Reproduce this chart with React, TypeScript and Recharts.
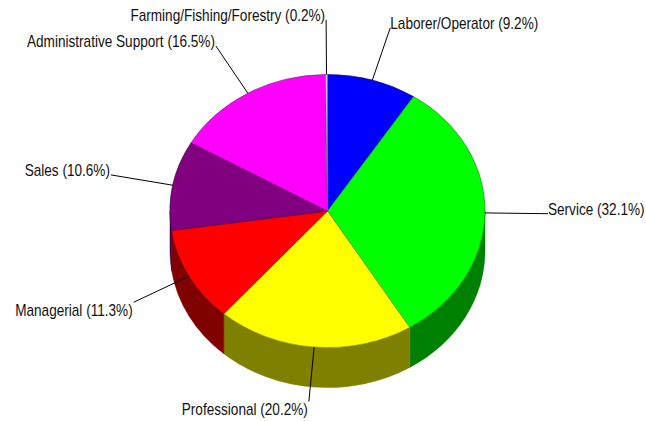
import { PieChart, Pie } from "recharts";

const occupations = [
  "Laborer/Operator",
  "Service",
  "Professional",
  "Managerial",
  "Sales",
  "Administrative Support",
  "Farming/Fishing/Forestry",
];
const shares = [9.2, 32.1, 20.2, 11.3, 10.6, 16.5, 0.2];
const topColors = ["#0000FF", "#00FF00", "#FFFF00", "#FF0000", "#800080", "#FF00FF", "#D0D0D8"];
const sideColors = ["#000080", "#008000", "#808000", "#800000", "#400040", "#800080", "#686870"];

const data = occupations.map((name, i) => ({ name, value: shares[i] }));

const TILT = 0.867; // vertical squash of the top face
const DEPTH = 40;
const LABEL_K = 1.4;
const RAD = Math.PI / 180;

const pt = (cx: number, cy: number, rx: number, ry: number, a: number) => [
  cx + rx * Math.cos(a * RAD),
  cy - ry * Math.sin(a * RAD),
];

// side wall, only the front half is visible
const renderWall = (p: any) => {
  const { cx, cy, outerRadius, startAngle, endAngle, index } = p;
  const rx = outerRadius;
  const ry = outerRadius * TILT;
  const hi = Math.min(startAngle, 0);
  const lo = Math.max(endAngle, -180);
  if (hi <= lo) return <g key={`w${index}`} />;
  const [x1, y1] = pt(cx, cy, rx, ry, hi);
  const [x2, y2] = pt(cx, cy, rx, ry, lo);
  const d = `M${x1},${y1} A${rx},${ry} 0 0 1 ${x2},${y2} L${x2},${y2 + DEPTH} A${rx},${ry} 0 0 0 ${x1},${y1 + DEPTH} Z`;
  return <path key={`w${index}`} d={d} fill={sideColors[index]} stroke={sideColors[index]} strokeWidth={0.5} />;
};

const renderTop = (p: any) => {
  const { cx, cy, outerRadius, startAngle, endAngle, index } = p;
  const rx = outerRadius;
  const ry = outerRadius * TILT;
  const [x1, y1] = pt(cx, cy, rx, ry, startAngle);
  const [x2, y2] = pt(cx, cy, rx, ry, endAngle);
  const large = Math.abs(startAngle - endAngle) > 180 ? 1 : 0;
  const d = `M${cx},${cy} L${x1},${y1} A${rx},${ry} 0 ${large} 1 ${x2},${y2} Z`;
  return <path key={`t${index}`} d={d} fill={topColors[index]} stroke={sideColors[index]} strokeWidth={0.6} />;
};

const renderLabel = (p: any) => {
  const { cx, cy, outerRadius, midAngle, index, name, value } = p;
  const rx = outerRadius;
  const ry = outerRadius * TILT;
  const [sx, sy] = pt(cx, cy, rx, ry, midAngle);
  const [ex, ey] = pt(cx, cy, rx * LABEL_K, ry * LABEL_K, midAngle);
  const right = Math.cos(midAngle * RAD) >= 0;
  const below = Math.sin(midAngle * RAD) < -0.2;
  const tx = right ? ex : ex - 1;
  const ty = below ? ey + 14 : ey + 1;
  return (
    <g key={`l${index}`}>
      <line x1={sx} y1={sy} x2={ex} y2={ey} stroke="#000" strokeWidth={1} />
      <g transform={`translate(${tx},${ty}) scale(0.85,1)`}>
        <text
          x={0}
          y={0}
          textAnchor={right ? "start" : "end"}
          fontFamily="'Liberation Sans', Arial, sans-serif"
          fontSize={16}
          fill="#111"
        >
          {`${name} (${value}%)`}
        </text>
      </g>
    </g>
  );
};

export default function App() {
  return (
    <div style={{ width: 646, height: 421, background: "#fff" }}>
      <style>{"body{margin:0}"}</style>
      <PieChart width={646} height={421} margin={{ top: 0, right: 0, bottom: 0, left: 0 }}>
        {[renderWall, renderTop, renderLabel].map((fn, k) => (
          <Pie
            key={k}
            data={data}
            dataKey="value"
            nameKey="name"
            cx={327.5}
            cy={211}
            outerRadius={157.5}
            startAngle={90}
            endAngle={-270}
            fill="none"
            stroke="none"
            label={fn}
            labelLine={false}
            isAnimationActive={false}
          />
        ))}
      </PieChart>
    </div>
  );
}
